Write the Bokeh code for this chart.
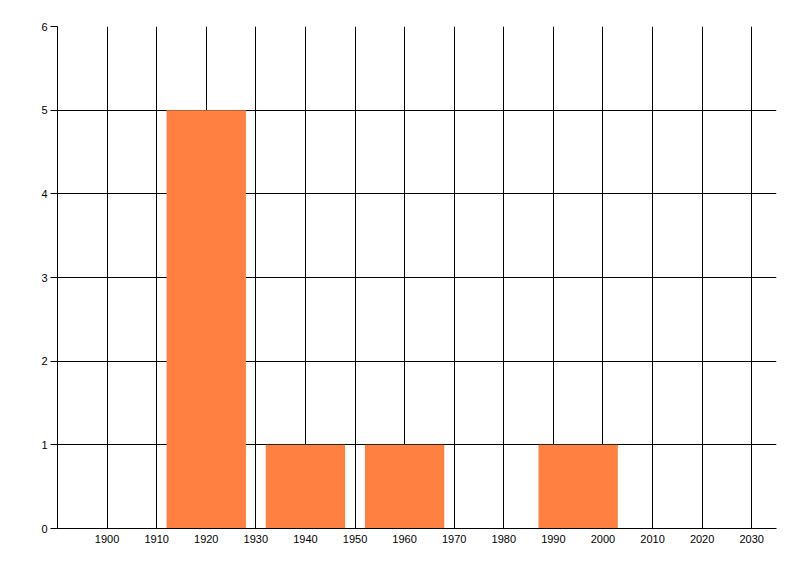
from bokeh.plotting import figure
from bokeh.models import ColumnDataSource, FixedTicker, Range1d
from bokeh.embed import file_html
from bokeh.resources import INLINE

# Data
bin_centers = [1920, 1940, 1960, 1995]
counts = [5, 1, 1, 1]
bin_width = 16
x_ticks = [1900, 1910, 1920, 1930, 1940, 1950, 1960, 1970, 1980, 1990, 2000, 2010, 2020, 2030]
y_ticks = [0, 1, 2, 3, 4, 5, 6]

source = ColumnDataSource(dict(x=bin_centers, top=counts))

p = figure(
    frame_width=719, frame_height=502,
    min_border_left=57, min_border_top=26, min_border_right=8, min_border_bottom=30,
    x_range=Range1d(1890, 2035), y_range=Range1d(0, 6),
    output_backend="svg", toolbar_location=None,
)
p.outline_line_color = None
p.background_fill_color = "white"
p.border_fill_color = "white"

for g in (p.xgrid, p.ygrid):
    g.grid_line_color = "black"
    g.grid_line_width = 1
    g.grid_line_alpha = 1.0
p.xgrid.ticker = FixedTicker(ticks=x_ticks)
p.ygrid.ticker = FixedTicker(ticks=y_ticks)

p.vbar(x="x", top="top", width=bin_width, bottom=0, source=source,
       fill_color="#FF8040", line_color=None)

p.xaxis.ticker = FixedTicker(ticks=x_ticks)
p.yaxis.ticker = FixedTicker(ticks=y_ticks)
for ax in (p.xaxis, p.yaxis):
    ax.axis_line_color = "black"
    ax.axis_line_width = 1
    ax.major_label_text_font = "Liberation Sans"
    ax.major_label_text_font_size = "11px"
    ax.major_label_text_color = "black"
    ax.minor_tick_line_color = None
    ax.major_tick_in = 0
    ax.major_tick_line_color = "black"

p.xaxis.major_tick_out = 0
p.xaxis.major_label_standoff = 6
p.yaxis.major_tick_out = 7
p.yaxis.major_label_standoff = 3

open("out.html", "w").write(file_html(p, INLINE))
